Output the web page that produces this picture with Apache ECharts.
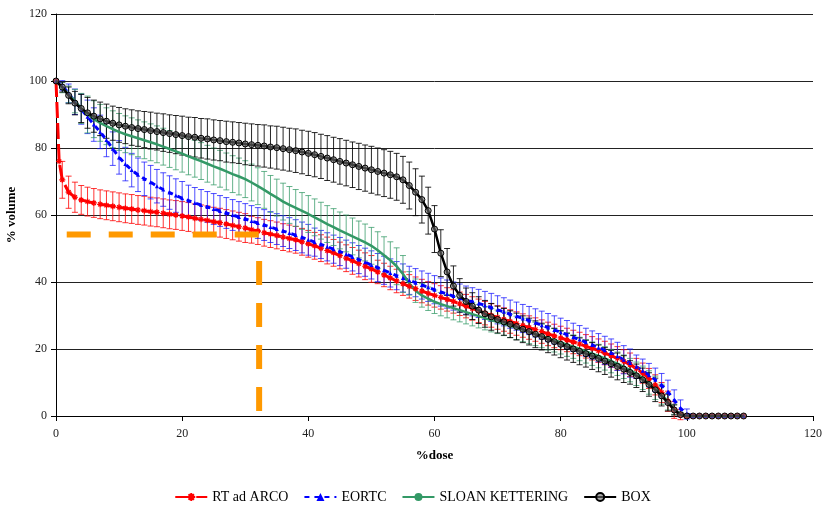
<!DOCTYPE html>
<html>
<head>
<meta charset="utf-8">
<script src="https://cdn.jsdelivr.net/npm/echarts@6/dist/echarts.min.js"></script>
<style>
html,body{margin:0;padding:0;background:#fff;}
#chart{width:825px;height:513px;}
</style>
</head>
<body>
<div id="chart"></div>
<script>
// ---- data ----
const dose = [0,1,2,3,4,5,6,7,8,9,10,11,12,13,14,15,16,17,18,19,20,21,22,23,24,25,26,27,28,29,30,31,32,33,34,35,36,37,38,39,40,41,42,43,44,45,46,47,48,49,50,51,52,53,54,55,56,57,58,59,60,61,62,63,64,65,66,67,68,69,70,71,72,73,74,75,76,77,78,79,80,81,82,83,84,85,86,87,88,89,90,91,92,93,94,95,96,97,98,99,100,101,102,103,104,105,106,107,108,109];

const arcoDose = [0,0.5,1,2,3,4,5,6,7,8,9,10,11,12,13,14,15,16,17,18,19,20,21,22,23,24,25,26,27,28,29,30,31,32,33,34,35,36,37,38,39,40,41,42,43,44,45,46,47,48,49,50,51,52,53,54,55,56,57,58,59,60,61,62,63,64,65,66,67,68,69,70,71,72,73,74,75,76,77,78,79,80,81,82,83,84,85,86,87,88,89,90,91,92,93,94,95,96,97,98,99,100,101,102,103,104,105,106,107,108,109];
const arcoVolume = [100,76,70.5,66.8,65.3,64.5,64.0,63.6,63.2,62.9,62.6,62.3,62.0,61.8,61.5,61.3,61.0,60.8,60.5,60.2,60.0,59.7,59.4,59.0,58.7,58.4,58.0,57.7,57.3,56.9,56.5,56.1,55.6,55.2,54.7,54.3,53.9,53.4,53.0,52.6,52.0,51.4,50.8,50.1,49.4,48.7,47.9,47.1,46.3,45.5,44.7,43.9,43.0,42.1,41.2,40.3,39.5,38.7,38.0,37.3,36.6,36.0,35.4,34.8,34.2,33.5,32.8,32.1,31.4,30.7,30.0,29.4,28.8,28.2,27.6,27.0,26.4,25.8,25.2,24.5,23.9,23.3,22.7,22.1,21.5,20.8,20.2,19.5,18.8,18.0,17.2,16.3,15.3,14.2,12.8,11.2,9.3,7.0,4.4,1.8,0.4,0,0,0,0,0,0,0,0,0,0];
const arcoErr = [0,0,5.5,4.8,4.5,4.3,4.3,4.3,4.3,4.3,4.3,4.3,4.3,4.3,4.3,4.3,4.3,4.3,4.3,4.3,4.3,4.3,4.3,4.3,4.3,4.3,4.3,4.3,4.3,4.3,4.3,4.3,4.0,4.0,4.0,4.0,4.0,4.0,4.0,4.0,4.0,4.0,4.0,4.0,4.0,4.0,4.0,4.0,4.0,4.0,4.0,4.0,3.5,3.5,3.5,3.5,3.5,3.5,3.5,3.5,3.5,3.5,3.5,3.5,3.5,3.5,3.5,3.5,3.5,3.5,3.5,3.5,3.5,3.5,3.5,3.5,3.5,3.5,3.5,3.5,3.5,3.5,3.5,3.5,3.5,3.5,3.5,3.5,3.5,3.5,3.5,3.5,3.5,3.0,3.0,3.0,3.0,3.0,3.0,2.5,1.5,0.5,0,0,0,0,0,0,0,0,0,0,0];

const eortcVolume = [100,98.6,96.3,93.8,91.6,89.3,87.0,84.8,82.4,79.8,77.2,75.2,73.4,72.0,70.8,69.8,68.6,67.6,66.7,65.8,65.0,64.3,63.6,63.0,62.4,61.8,61.2,60.6,60.0,59.4,58.8,58.2,57.6,57.0,56.4,55.8,55.2,54.6,54.0,53.3,52.6,51.9,51.2,50.5,49.8,49.1,48.3,47.5,46.7,45.9,45.1,44.3,43.5,42.7,41.9,41.2,40.5,39.8,39.1,38.4,37.7,37.0,36.4,35.8,35.2,34.6,34.1,33.6,33.0,32.4,31.7,31.1,30.4,29.8,29.1,28.5,27.8,27.1,26.4,25.7,25.0,24.3,23.5,22.8,22.0,21.2,20.4,19.6,18.8,17.8,16.8,15.8,14.7,13.5,12.2,10.8,9.2,7.2,4.8,2.3,0.6,0,0,0,0,0,0,0,0,0];
const eortcErr = [0,1.5,2.8,3.8,4.5,5.0,5.0,5.0,5.0,5.0,5.0,5.0,5.0,5.0,5.0,5.0,5.0,5.0,5.0,5.0,5.0,4.6,4.6,4.6,4.6,4.6,4.6,4.6,4.6,4.6,4.6,4.6,4.6,4.6,4.6,4.6,4.6,4.6,4.6,4.6,4.6,4.2,4.2,4.2,4.2,4.2,4.2,4.2,4.2,4.2,4.2,4.2,4.2,4.2,4.2,4.2,4.2,4.2,4.2,4.2,4.2,4.2,4.2,4.2,4.2,4.2,4.2,4.2,4.2,4.2,4.2,4.2,4.2,4.2,4.2,4.2,4.2,4.2,4.2,4.2,4.2,4.2,4.2,4.2,4.2,4.2,4.2,4.2,4.2,4.2,4.2,4.2,3.5,3.5,3.5,3.5,3.5,3.5,3.0,2.5,1.5,0.5,0,0,0,0,0,0,0,0,0];

const sloanVolume = [100,98.0,96.0,94.0,91.8,90.0,88.6,87.5,86.5,85.6,84.8,84.1,83.5,82.9,82.3,81.7,81.1,80.4,79.7,79.0,78.3,77.5,76.8,76.1,75.3,74.5,73.8,73.0,72.2,71.5,70.7,69.7,68.6,67.5,66.3,65.2,64.0,63.0,62.1,61.2,60.3,59.3,58.3,57.3,56.4,55.4,54.5,53.6,52.7,51.8,50.8,49.5,48.0,46.5,44.7,42.4,39.6,37.4,36.0,35.0,34.1,33.4,32.8,32.2,31.6,31.0,30.4,29.8,29.2,28.6,28.1,27.5,26.9,26.3,25.7,25.1,24.5,23.9,23.2,22.6,22.0,21.3,20.7,20.0,19.3,18.6,17.9,17.2,16.4,15.6,14.7,13.7,12.6,11.4,10.0,8.4,6.5,4.3,2.0,0.5,0,0,0,0,0,0,0,0,0,0];
const sloanErr = [0,1.5,2.5,3.5,4.5,5.5,5.5,5.5,5.5,5.5,5.5,5.5,5.5,5.5,5.5,5.5,5.5,5.5,5.5,5.5,5.5,5.5,5.5,5.5,5.5,5.5,5.5,5.5,5.5,5.5,5.5,5.5,5.5,5.5,5.5,5.5,5.5,5.5,5.5,5.5,5.5,5.5,5.5,5.5,5.5,5.5,5.5,5.5,5.5,5.5,5.5,5.5,5.5,5.5,5.5,5.5,3.5,3.5,3.5,3.5,3.5,3.5,3.5,3.5,3.5,3.5,3.5,3.5,3.5,3.5,3.5,3.5,3.5,3.5,3.5,3.5,3.5,3.5,3.5,3.5,3.5,3.5,3.5,3.5,3.5,3.5,3.5,3.5,3.5,3.5,3.5,3.5,3.5,3.5,3.5,3.5,3.0,2.5,1.5,0.5,0,0,0,0,0,0,0,0,0,0];

const boxVolume = [100,98.2,95.7,93.4,91.8,90.5,89.5,88.7,88.0,87.4,86.9,86.5,86.1,85.8,85.5,85.2,84.9,84.6,84.3,84.0,83.7,83.4,83.2,82.9,82.7,82.4,82.2,81.9,81.7,81.5,81.2,81.0,80.8,80.6,80.3,80.1,79.8,79.5,79.2,78.8,78.4,78.0,77.5,77.0,76.5,76.0,75.5,75.0,74.5,74.0,73.5,73.0,72.5,72.0,71.4,70.5,68.8,66.8,64.6,61.3,55.8,48.6,43.0,38.8,36.0,34.2,32.8,31.6,30.5,29.6,28.8,28.1,27.4,26.7,25.9,25.2,24.4,23.7,22.9,22.2,21.4,20.7,20.0,19.3,18.6,17.9,17.2,16.4,15.6,14.8,14.0,13.0,12.0,10.8,9.4,7.8,6.0,4.0,1.8,0.4,0,0,0,0,0,0,0,0,0,0];
const boxErr = [0,1.5,2.5,3.5,4.2,4.6,4.8,5.0,5.1,5.1,5.2,5.2,5.3,5.3,5.4,5.5,5.5,5.6,5.6,5.7,5.8,5.8,5.9,5.9,6.0,6.0,6.0,6.1,6.1,6.1,6.2,6.2,6.2,6.3,6.3,6.4,6.4,6.4,6.5,6.5,6.6,6.6,6.6,6.7,6.7,6.8,6.8,6.8,6.9,6.9,7.0,7.0,7.0,7.0,7.0,7.0,7.0,7.0,7.0,7.0,7.0,7.0,7.0,6.0,5.0,4.0,4.0,4.0,4.0,4.0,4.0,4.0,4.0,4.0,4.0,4.0,4.0,4.0,4.0,4.0,4.0,4.0,4.0,4.0,4.0,4.0,4.0,4.0,4.0,4.0,4.0,3.5,3.5,3.5,3.5,3.5,3.0,2.5,1.5,0.5,0,0,0,0,0,0,0,0,0,0];

// orange reference guide (dose, volume)
const guideHDose = [1.7, 32.6];
const guideHVolume = [54.2, 54.2];
const guideVDose = [32.2, 32.2];
const guideVVolume = [46.3, 1.5];

const seriesNames = ['RT ad ARCO', 'EORTC', 'SLOAN KETTERING', 'BOX'];
const xTicks = {min: 0, max: 120, interval: 20};
const yTicks = {min: 0, max: 120, interval: 20};

// ---- build ----
function pairs(xs, ys) { return xs.map((x, i) => [x, ys[i]]); }
function triples(xs, ys, es) { return xs.map((x, i) => [x, ys[i], es[i]]); }

function errRender(color) {
  return function (params, api) {
    const x = api.value(0), y = api.value(1), e = api.value(2);
    if (!(e > 0)) return;
    const t = api.coord([x, y + e]);
    const b = api.coord([x, y - e]);
    const hw = 3;
    const st = {stroke: color, lineWidth: 1};
    return {
      type: 'group',
      children: [
        {type: 'line', shape: {x1: t[0], y1: t[1], x2: b[0], y2: b[1]}, style: st},
        {type: 'line', shape: {x1: t[0] - hw, y1: t[1], x2: t[0] + hw, y2: t[1]}, style: st},
        {type: 'line', shape: {x1: b[0] - hw, y1: b[1], x2: b[0] + hw, y2: b[1]}, style: st}
      ]
    };
  };
}

function errSeries(name, data, color) {
  return {
    type: 'custom', name: name + ' err', data: data,
    renderItem: errRender(color), silent: true, z: 1,
    encode: {x: 0, y: 1}, animation: false
  };
}

const serif = "'Liberation Serif', 'Times New Roman', serif";
const starPath = 'path://M5,0L5,10M0,5L10,5M1.6,1.6L8.4,8.4M8.4,1.6L1.6,8.4';

const option = {
  animation: false,
  backgroundColor: '#fff',
  grid: {left: 56, right: 12, top: 14, bottom: 97, outerBoundsMode: 'none', containLabel: false},
  legend: {
    data: seriesNames,
    bottom: 4,
    left: 'center',
    itemWidth: 32,
    itemHeight: 10,
    itemGap: 15,
    textStyle: {fontFamily: serif, fontSize: 14, color: '#000'}
  },
  xAxis: {
    type: 'value', min: xTicks.min, max: xTicks.max, interval: xTicks.interval,
    name: '%dose', nameLocation: 'middle', nameGap: 33,
    nameTextStyle: {fontFamily: serif, fontSize: 13, fontWeight: 'bold', color: '#000'},
    axisLine: {show: true, onZero: false, lineStyle: {color: '#000', width: 1}},
    axisTick: {show: true, length: 5, lineStyle: {color: '#000'}},
    axisLabel: {fontFamily: serif, fontSize: 12, color: '#222', margin: 12},
    splitLine: {show: false}
  },
  yAxis: {
    type: 'value', min: yTicks.min, max: yTicks.max, interval: yTicks.interval,
    name: '% volume', nameLocation: 'middle', nameGap: 27,
    nameTextStyle: {fontFamily: serif, fontSize: 13, fontWeight: 'bold', color: '#000'},
    axisLine: {show: true, lineStyle: {color: '#000', width: 1}},
    axisTick: {show: true, length: 5, lineStyle: {color: '#000'}},
    axisLabel: {fontFamily: serif, fontSize: 12, color: '#222', margin: 9},
    splitLine: {show: true, lineStyle: {color: '#222', width: 1}}
  },
  series: [
    errSeries('arco', triples(arcoDose, arcoVolume, arcoErr), 'rgba(255,0,0,0.8)'),
    errSeries('eortc', triples(dose, eortcVolume, eortcErr), 'rgba(20,20,255,0.75)'),
    errSeries('sloan', triples(dose, sloanVolume, sloanErr), 'rgba(51,153,102,0.75)'),
    errSeries('box', triples(dose, boxVolume, boxErr), 'rgba(0,0,0,0.85)'),
    {
      type: 'line', name: seriesNames[0], data: pairs(arcoDose, arcoVolume), z: 3,
      symbol: starPath, symbolSize: 6, showSymbol: true,
      itemStyle: {color: '#ff0000', borderColor: '#ff0000', borderWidth: 1.2},
      lineStyle: {color: '#ff0000', width: 3, type: [16, 5]}
    },
    {
      type: 'line', name: seriesNames[1], data: pairs(dose, eortcVolume), z: 3,
      symbol: 'triangle', symbolSize: 4, showSymbol: true,
      itemStyle: {color: '#0000ff'},
      lineStyle: {color: '#0000ff', width: 3, type: [5, 5]}
    },
    {
      type: 'line', name: seriesNames[2], data: pairs(dose, sloanVolume), z: 3,
      symbol: 'none', showSymbol: false,
      itemStyle: {color: '#339966'},
      lineStyle: {color: '#339966', width: 2.5}
    },
    {
      type: 'line', name: seriesNames[3], data: pairs(dose, boxVolume), z: 4,
      symbol: 'circle', symbolSize: 6, showSymbol: true,
      itemStyle: {color: 'rgba(110,110,110,0.6)', borderColor: '#000', borderWidth: 1},
      lineStyle: {color: '#000', width: 2.5}
    },
    {
      type: 'line', name: 'guideH', data: pairs(guideHDose, guideHVolume), z: 5,
      symbol: 'none', silent: true,
      lineStyle: {color: '#ff9900', width: 6, type: [24, 18]}
    },
    {
      type: 'line', name: 'guideV', data: pairs(guideVDose, guideVVolume), z: 5,
      symbol: 'none', silent: true,
      lineStyle: {color: '#ff9900', width: 6, type: [24, 18]}
    }
  ]
};

const chart = echarts.init(document.getElementById('chart'), null, {renderer: 'canvas'});
chart.setOption(option);
</script>
</body>
</html>
